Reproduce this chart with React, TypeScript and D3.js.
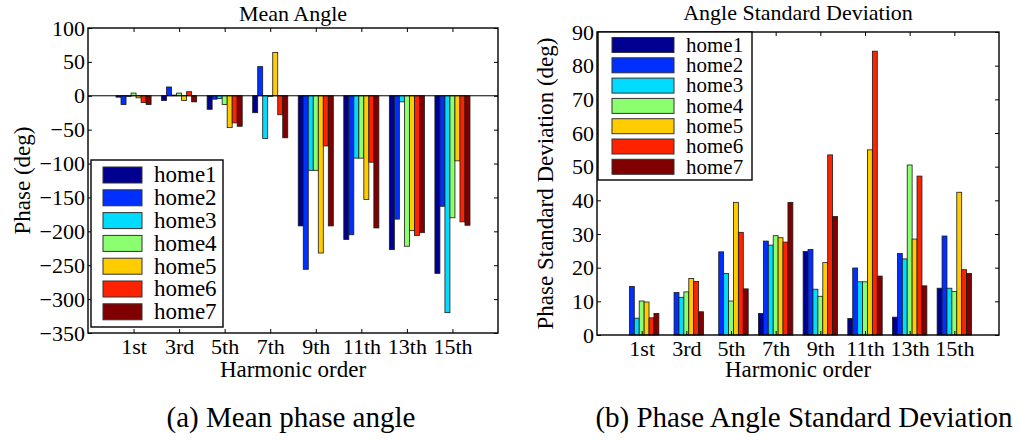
import React, { useRef, useEffect } from 'react';
import * as d3 from 'd3';

const harmonics = ['1st', '3rd', '5th', '7th', '9th', '11th', '13th', '15th'];
const homes = ['home1', 'home2', 'home3', 'home4', 'home5', 'home6', 'home7'];
const homeColors = ['#000090', '#0030ff', '#00dcff', '#8cff70', '#ffcc00', '#ff2200', '#800000'];

// mean phase angle (deg), one array per home, 1st..15th
const meanHome1 = [-2, -7, -20, -25, -192, -212, -227, -262];
const meanHome2 = [-13, 13, -5, 43, -256, -205, -182, -163];
const meanHome3 = [-1, 1, -4, -63, -110, -92, -9, -320];
const meanHome4 = [4, 4, -13, -1, -110, -92, -222, -180];
const meanHome5 = [-3, -7, -47, 64, -232, -153, -199, -96];
const meanHome6 = [-10, 6, -40, -28, -74, -98, -206, -186];
const meanHome7 = [-13, -9, -45, -62, -192, -195, -202, -191];

// phase standard deviation (deg)
const stdHome1 = [0, 0, 0, 6.4, 24.8, 4.9, 5.3, 13.9];
const stdHome2 = [14.4, 12.6, 24.7, 27.9, 25.4, 19.9, 24.2, 29.4];
const stdHome3 = [5, 11.2, 18.3, 26.7, 13.6, 15.8, 22.6, 13.9];
const stdHome4 = [10.1, 12.8, 10.1, 29.5, 11.5, 15.8, 50.5, 12.9];
const stdHome5 = [9.8, 16.8, 39.4, 28.9, 21.5, 55, 28.5, 42.4];
const stdHome6 = [5.1, 15.9, 30.5, 27.6, 53.5, 84.3, 47.2, 19.4];
const stdHome7 = [6.4, 6.9, 13.7, 39.4, 35.2, 17.5, 14.6, 18.3];

const meanSeries = [meanHome1, meanHome2, meanHome3, meanHome4, meanHome5, meanHome6, meanHome7];
const stdSeries = [stdHome1, stdHome2, stdHome3, stdHome4, stdHome5, stdHome6, stdHome7];

const meanTicks = d3.range(-350, 101, 50);
const stdTicks = d3.range(0, 91, 10);

const FONT = '"Liberation Serif", "Times New Roman", "DejaVu Serif", serif';

const drawPanel = (root, opts) => {
  const { left, right, top, bottom, domain, ticks, series, title, titleY, ylabel, ylabelX, legend } = opts;

  const x = d3.scaleLinear().domain([-1, 8]).range([left, right]);
  const y = d3.scaleLinear().domain(domain).range([bottom, top]);
  const barW = 0.11;

  const g = root.append('g');

  // bars
  series.forEach((vals, k) => {
    g.selectAll(null)
      .data(vals)
      .enter()
      .append('rect')
      .attr('x', (d, i) => x(i + (k - 3.5) * barW))
      .attr('width', x(barW) - x(0))
      .attr('y', d => Math.min(y(d), y(0)))
      .attr('height', d => Math.abs(y(d) - y(0)))
      .attr('fill', homeColors[k])
      .attr('stroke', d => (d === 0 ? 'none' : '#1a1a1a'))
      .attr('stroke-width', 0.8);
  });

  // zero line for the mean chart
  if (domain[0] < 0) {
    g.append('line')
      .attr('x1', left).attr('x2', right)
      .attr('y1', y(0)).attr('y2', y(0))
      .attr('stroke', 'black').attr('stroke-width', 1);
  }

  const tickPos = harmonics.map((h, i) => i);

  const bottomAxis = d3.axisBottom(x).tickValues(tickPos).tickSizeInner(-4).tickSizeOuter(0)
    .tickPadding(5).tickFormat((d) => harmonics[d]);
  const topAxis = d3.axisTop(x).tickValues(tickPos).tickSizeInner(-4).tickSizeOuter(0).tickFormat(() => '');
  const leftAxis = d3.axisLeft(y).tickValues(ticks).tickSizeInner(-4).tickSizeOuter(0)
    .tickPadding(3).tickFormat(d3.format('d'));
  const rightAxis = d3.axisRight(y).tickValues(ticks).tickSizeInner(-4).tickSizeOuter(0).tickFormat(() => '');

  const axes = [
    g.append('g').attr('transform', `translate(0,${bottom})`).call(bottomAxis),
    g.append('g').attr('transform', `translate(0,${top})`).call(topAxis),
    g.append('g').attr('transform', `translate(${left},0)`).call(leftAxis),
    g.append('g').attr('transform', `translate(${right},0)`).call(rightAxis),
  ];
  axes.forEach(a => {
    a.select('.domain').remove();
    a.selectAll('line').attr('stroke', 'black').attr('stroke-width', 1);
    a.selectAll('text')
      .style('font-family', FONT)
      .style('font-size', '22px')
      .attr('fill', 'black');
  });

  g.append('rect')
    .attr('x', left).attr('y', top)
    .attr('width', right - left).attr('height', bottom - top)
    .attr('fill', 'none').attr('stroke', 'black').attr('stroke-width', 1.4);

  // title and axis labels
  const cx = (left + right) / 2;
  g.append('text')
    .attr('x', cx).attr('y', titleY)
    .attr('text-anchor', 'middle')
    .style('font-family', FONT).style('font-size', '22px')
    .text(title);

  g.append('text')
    .attr('x', cx).attr('y', 377)
    .attr('text-anchor', 'middle')
    .style('font-family', FONT).style('font-size', '23px')
    .text('Harmonic order');

  g.append('text')
    .attr('transform', `translate(${ylabelX},${(top + bottom) / 2}) rotate(-90)`)
    .attr('text-anchor', 'middle')
    .style('font-family', FONT).style('font-size', '23px')
    .text(ylabel);

  // legend
  const lg = g.append('g');
  lg.append('rect')
    .attr('x', legend.x0).attr('y', legend.y0)
    .attr('width', legend.x1 - legend.x0).attr('height', legend.y1 - legend.y0)
    .attr('fill', 'white').attr('stroke', 'black').attr('stroke-width', 1.4);

  const rows = lg.selectAll(null)
    .data(homes)
    .enter()
    .append('g')
    .attr('transform', (d, i) => `translate(0,${legend.firstRow + i * legend.step})`);

  rows.append('rect')
    .attr('x', legend.swX).attr('y', -legend.swH / 2)
    .attr('width', legend.swW).attr('height', legend.swH)
    .attr('fill', (d, i) => homeColors[i])
    .attr('stroke', '#333').attr('stroke-width', 1);

  rows.append('text')
    .attr('x', legend.textX).attr('y', 0)
    .attr('dy', '0.32em')
    .style('font-family', FONT).style('font-size', legend.font)
    .text(d => d);
};

const App = () => {
  const chartRef = useRef(null);

  useEffect(() => {
    d3.select(chartRef.current).select('svg').remove();
    const svg = d3
      .select(chartRef.current)
      .append('svg')
      .attr('width', 1020)
      .attr('height', 440)
      .style('position', 'absolute')
      .style('left', 0)
      .style('top', 0)
      .style('background', 'white');

    drawPanel(svg, {
      left: 88, right: 498, top: 28, bottom: 333,
      domain: [-350, 100], ticks: meanTicks, series: meanSeries,
      title: 'Mean Angle', titleY: 21,
      ylabel: 'Phase (deg)', ylabelX: 30,
      legend: { x0: 91, x1: 223, y0: 160, y1: 327, firstRow: 175, step: 22.8, swX: 103, swW: 39, swH: 16, textX: 154, font: '23px' },
    });

    drawPanel(svg, {
      left: 597, right: 999, top: 32, bottom: 335,
      domain: [0, 90], ticks: stdTicks, series: stdSeries,
      title: 'Angle Standard Deviation', titleY: 20,
      ylabel: 'Phase Standard Deviation (deg)', ylabelX: 553,
      legend: { x0: 598, x1: 752, y0: 32, y1: 180, firstRow: 45, step: 20.3, swX: 612, swW: 62, swH: 15, textX: 686, font: '21px' },
    });

    svg.append('text')
      .attr('x', 291).attr('y', 427)
      .attr('text-anchor', 'middle')
      .style('font-family', FONT).style('font-size', '29px')
      .text('(a) Mean phase angle');

    svg.append('text')
      .attr('x', 804).attr('y', 427)
      .attr('text-anchor', 'middle')
      .style('font-family', FONT).style('font-size', '29px')
      .text('(b) Phase Angle Standard Deviation');
  }, []);

  return <div ref={chartRef}></div>;
};

export default App;
